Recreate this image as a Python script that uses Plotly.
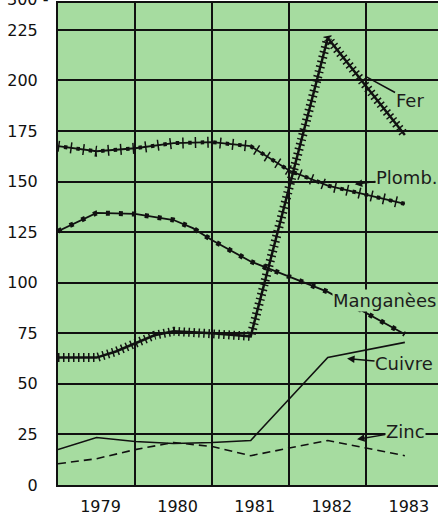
import plotly.graph_objects as go

# production index
fer_x = [1978.5, 1979.0, 1979.25, 1979.5, 1979.75, 1980.0, 1980.5, 1981.0, 1982.0, 1983.0]
fer_y = [63, 63, 66, 70, 74, 76, 75, 73.5, 221, 173]

plomb_x = [1978.5, 1979.0, 1979.5, 1980.0, 1980.5, 1981.0, 1981.5, 1982.0, 1983.0]
plomb_y = [167.5, 165, 166.5, 169, 169.5, 167.5, 155.5, 148, 139]

mang_x = [1978.5, 1978.75, 1979.0, 1979.5, 1980.0, 1980.25, 1980.5, 1981.0, 1981.5, 1982.0, 1983.0]
mang_y = [125.5, 130, 134.5, 134, 131, 127, 121, 110.5, 103, 95.5, 74.5]

cuivre_x = [1978.5, 1979.0, 1979.5, 1980.0, 1980.5, 1981.0, 1982.0, 1983.0]
cuivre_y = [17.5, 23.5, 21.5, 20.5, 21, 22, 63, 70.5]

zinc_x = [1978.5, 1979.0, 1979.5, 1980.0, 1980.5, 1981.0, 1982.0, 1983.0]
zinc_y = [10.5, 13, 17.5, 21, 19, 14.5, 22, 14.5]

years = [1979, 1980, 1981, 1982, 1983]
y_ticks = [0, 25, 50, 75, 100, 125, 150, 175, 200, 225]

GREEN = '#a6dca0'
INK = '#111'
FONT = 'DejaVu Sans'

fig = go.Figure()

# Fer: thick line with dense cross ticks
fig.add_trace(go.Scatter(x=fer_x, y=fer_y, mode='lines', line=dict(color=INK, width=9, dash='1.5px,3.5px')))
fig.add_trace(go.Scatter(x=fer_x, y=fer_y, mode='lines', line=dict(color=INK, width=2.5)))

# Plomb: ticks with dots between
fig.add_trace(go.Scatter(x=plomb_x, y=plomb_y, mode='lines', line=dict(color=INK, width=11, dash='1.5px,11px')))
fig.add_trace(go.Scatter(x=plomb_x, y=plomb_y, mode='lines', line=dict(color=INK, width=4, dash='0px,6px,3.5px,3px')))
fig.add_trace(go.Scatter(x=plomb_x, y=plomb_y, mode='lines', line=dict(color=INK, width=1.8)))

# Manganèse: dotted beads
fig.add_trace(go.Scatter(x=mang_x, y=mang_y, mode='lines', line=dict(color=INK, width=5, dash='4px,9px')))
fig.add_trace(go.Scatter(x=mang_x, y=mang_y, mode='lines', line=dict(color=INK, width=1.8)))

fig.add_trace(go.Scatter(x=cuivre_x, y=cuivre_y, mode='lines', line=dict(color=INK, width=1.6)))
fig.add_trace(go.Scatter(x=zinc_x, y=zinc_y, mode='lines', line=dict(color=INK, width=1.6, dash='8px,5px')))

lab = dict(font=dict(family=FONT, size=18, color='#1c1c1c'), bgcolor=GREEN, borderpad=0)
arr = dict(arrowcolor=INK, arrowwidth=1.5, arrowsize=1, arrowhead=2)
fig.add_annotation(text='Fer', x=1982.49, y=202, ax=44, ay=24, showarrow=True,
                   **lab, **dict(arr, arrowhead=0))
fig.add_annotation(text='Plomb.', x=1982.35, y=148.7, ax=52, ay=-7, showarrow=True, **lab, **arr)
fig.add_annotation(text='Manganèes', x=1982.74, y=91, showarrow=False, **lab)
fig.add_annotation(text='Cuivre', x=1982.25, y=62.5, ax=57, ay=5, showarrow=True, **lab, **arr)
fig.add_annotation(text='Zinc', x=1982.38, y=22.6, ax=48, ay=-8, showarrow=True, **lab, **arr)

# top label cut off by the crop
fig.add_annotation(text='300 -', xref='paper', yref='paper', x=-0.02, y=0.984,
                   xanchor='right', yanchor='bottom', showarrow=False,
                   font=dict(family=FONT, size=16, color=INK))

fig.update_xaxes(range=[1978.5, 1983.43], tickvals=years, ticktext=[str(y) for y in years],
                 showgrid=False, zeroline=False, showline=True, linecolor=INK, linewidth=2,
                 mirror=True, ticks='', ticklabelstandoff=6, ticklabelshift=4,
                 tickfont=dict(family=FONT, size=16, color=INK),
                 minor=dict(tick0=1979.5, dtick=1, showgrid=True, gridcolor=INK, gridwidth=1.7))
fig.update_yaxes(range=[0, 238.3], tickvals=y_ticks, showgrid=True, gridcolor=INK, gridwidth=1.7,
                 zeroline=False, showline=True, linecolor=INK, linewidth=2, ticks='',
                 ticklabelstandoff=15, tickfont=dict(family=FONT, size=16, color=INK))

fig.update_layout(width=438, height=516, margin=dict(l=58, r=0, t=3, b=29),
                  plot_bgcolor=GREEN, paper_bgcolor='white', showlegend=False)
fig.write_html("out.html", config={'displayModeBar': False},
               post_script="document.body.style.margin='0';document.body.style.overflow='hidden';")
